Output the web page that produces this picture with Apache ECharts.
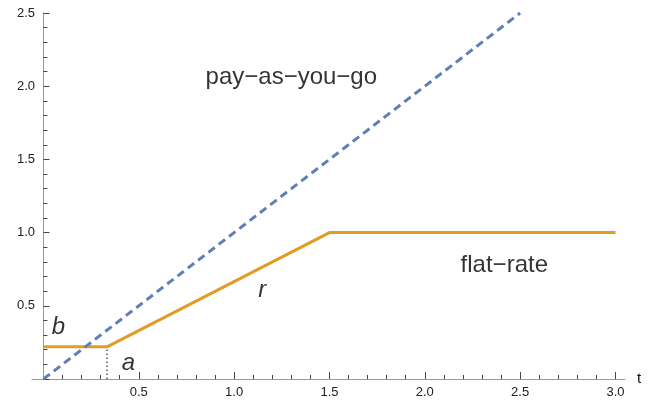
<!DOCTYPE html>
<html>
<head>
<meta charset="utf-8">
<script src="https://cdn.jsdelivr.net/npm/echarts@6/dist/echarts.min.js"></script>
<style>html,body{margin:0;padding:0;background:#fff}#c{width:656px;height:403px}</style>
</head>
<body>
<div id="c"></div>
<script>
// ---- data ----
var payAsYouGo = [[0, 0], [2.5, 2.5]];
var flatRate = [[0, 0.22], [1/3, 0.22], [1.5, 1.0], [3.0, 1.0]];
var aMarker = [[1/3, 0], [1/3, 0.22]];
var xMajorTicks = [0.5, 1.0, 1.5, 2.0, 2.5, 3.0];
var xMinorTicks = [0.1,0.2,0.3,0.4,0.6,0.7,0.8,0.9,1.1,1.2,1.3,1.4,1.6,1.7,1.8,1.9,2.1,2.2,2.3,2.4,2.6,2.7,2.8,2.9];
var plainLabels = [[1.30, 2.063, 'pay\u2212as\u2212you\u2212go'], [2.417, 0.779, 'flat\u2212rate']];
var italicLabels = [[0.079, 0.355, 'b'], [0.446, 0.109, 'a'], [1.148, 0.607, 'r']];

var chart = echarts.init(document.getElementById('c'), null, {renderer: 'canvas'});
var axisColor = '#999';
var tickColor = '#444';
var labelColor = '#222';
var font = '"Liberation Sans", Arial, sans-serif';

function textSeries(data, italic) {
  return {
    type: 'scatter', xAxisIndex: 0, data: data, symbolSize: 0, silent: true,
    label: {
      show: true, position: 'inside', formatter: function (p) { return p.data[2]; },
      color: '#000', fontSize: 24, fontFamily: font, fontStyle: italic ? 'italic' : 'normal'
    }
  };
}

chart.setOption({
  animation: false,
  grid: {left: 32, right: 31, top: 13, bottom: 24, containLabel: false},
  xAxis: [{
    type: 'value', min: -0.06, max: 3.05,
    name: 't', nameLocation: 'end', nameGap: 12,
    nameTextStyle: {color: '#111', fontSize: 15, fontFamily: font, verticalAlign: 'middle'},
    axisLine: {show: true, lineStyle: {color: axisColor, width: 1}},
    axisTick: {show: true, inside: true, length: 7, customValues: xMajorTicks, lineStyle: {color: tickColor, width: 1}},
    axisLabel: {customValues: xMajorTicks, color: labelColor, fontSize: 13, fontFamily: font, margin: 7,
      formatter: function (v) { return v.toFixed(1); }},
    splitLine: {show: false}
  }, {
    type: 'value', min: -0.06, max: 3.05, position: 'bottom', offset: 0,
    axisLine: {show: false},
    axisTick: {show: true, inside: true, length: 4, customValues: xMinorTicks, lineStyle: {color: tickColor, width: 1}},
    axisLabel: {show: false},
    splitLine: {show: false}
  }],
  yAxis: {
    type: 'value', min: 0, max: 2.5, interval: 0.5,
    axisLine: {show: true, onZero: true, lineStyle: {color: axisColor, width: 1}},
    axisTick: {show: true, inside: true, length: 6, lineStyle: {color: tickColor, width: 1}},
    minorTick: {show: true, splitNumber: 5, length: 4, lineStyle: {color: tickColor, width: 1}},
    axisLabel: {color: labelColor, fontSize: 13, fontFamily: font, margin: -3, showMinLabel: false,
      formatter: function (v) { return v === 0 ? '' : v.toFixed(1); }},
    splitLine: {show: false}
  },
  series: [
    {type: 'line', xAxisIndex: 0, data: aMarker, symbol: 'none', silent: true,
      lineStyle: {color: '#000', width: 1, type: [1.5, 2.5]}},
    {type: 'line', xAxisIndex: 0, data: flatRate, symbol: 'none', silent: true,
      lineStyle: {color: '#E19C24', width: 3}},
    {type: 'line', xAxisIndex: 0, data: payAsYouGo, symbol: 'none', silent: true,
      lineStyle: {color: '#5E81B5', width: 3, type: [8, 5]}},
    textSeries(plainLabels, false),
    textSeries(italicLabels, true)
  ]
});
</script>
</body>
</html>
